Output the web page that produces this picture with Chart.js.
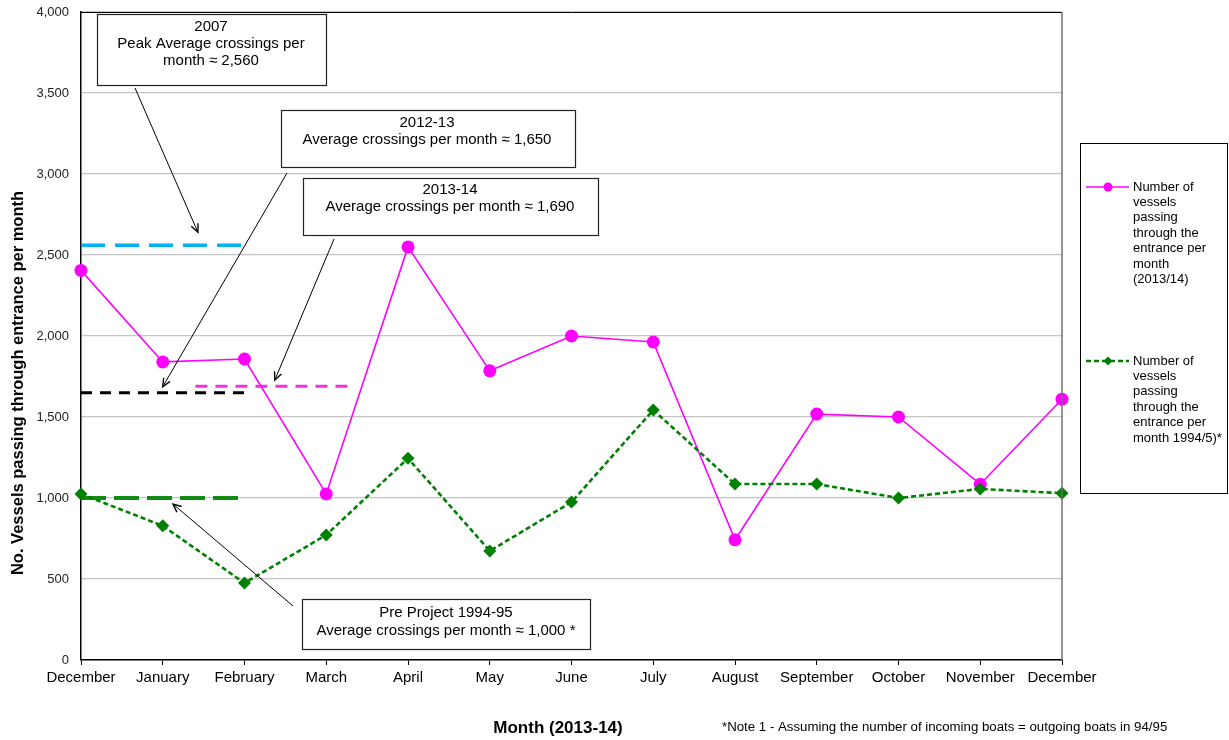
<!DOCTYPE html>
<html>
<head>
<meta charset="utf-8">
<script src="https://cdn.jsdelivr.net/npm/chart.js@4/dist/chart.umd.min.js"></script>
<style>
  html, body { margin: 0; padding: 0; background: #fff; }
  #wrap { position: relative; width: 1229px; height: 740px; }
</style>
</head>
<body>
<div id="wrap"><canvas id="c" width="1229" height="740"></canvas></div>
<script>
// Months along the x axis (Dec 2013 through Dec 2014)
const months = ['December', 'January', 'February', 'March', 'April', 'May', 'June',
  'July', 'August', 'September', 'October', 'November', 'December'];

// Vessels passing through the entrance per month, 2013/14
const vessels2013 = [2405, 1840, 1858, 1025, 2550, 1785, 2000, 1963, 742, 1518, 1500, 1085, 1610];

// Vessels passing through the entrance per month, 1994/5 (pre project)
const vessels1994 = [1025, 828, 475, 772, 1245, 673, 975, 1543, 1086, 1086, 1000, 1056, 1030];

// Average crossings per month for reference periods
const avgPeriods = ['2007', '2012-13', '2013-14', 'Pre Project 1994-95'];
const avgValues = [2560, 1650, 1690, 1000];
const avgFrom = [0, 0, 1.4, 0];
const avgTo = [2, 2, 3.35, 2];
const avgColors = ['#00B0F0', '#000000', '#EE33DD', '#138A13'];
const avgWidths = [3.5, 3, 3, 4];
const avgDashes = [[24, 10], [11, 8], [12, 8], [25, 8]];

// Text of the callout boxes
const calloutText = [
  ['2007', 'Peak Average crossings per', 'month \u2248 2,560'],
  ['2012-13', 'Average crossings per month \u2248 1,650'],
  ['2013-14', 'Average crossings per month \u2248 1,690'],
  ['Pre Project 1994-95', 'Average crossings per month \u2248 1,000 *']
];

const legendText = [
  ['Number of', 'vessels', 'passing', 'through the', 'entrance per', 'month', '(2013/14)'],
  ['Number of', 'vessels', 'passing', 'through the', 'entrance per', 'month 1994/5)*']
];

const yTitle = 'No. Vessels passing through entrance per month';
const xTitle = 'Month (2013-14)';
const footnote = '*Note 1 - Assuming the number of incoming boats = outgoing boats in 94/95';

const FONT = '"Liberation Sans", Arial, Helvetica, sans-serif';
const MAGENTA = '#FF00FF';
const GREEN = '#008000';

const toPoints = arr => arr.map((v, i) => ({ x: i, y: v }));

const datasets = [
  {
    label: 'Number of vessels passing through the entrance per month (2013/14)',
    data: toPoints(vessels2013),
    borderColor: MAGENTA,
    backgroundColor: MAGENTA,
    borderWidth: 1.6,
    pointStyle: 'circle',
    pointRadius: 6.5,
    pointBorderWidth: 0,
    tension: 0,
    clip: false,
    order: 1
  },
  {
    label: 'Number of vessels passing through the entrance per month 1994/5)*',
    data: toPoints(vessels1994),
    borderColor: GREEN,
    backgroundColor: GREEN,
    borderWidth: 2.6,
    borderDash: [5, 3],
    pointStyle: 'rectRot',
    pointRadius: 6.5,
    pointBorderWidth: 0,
    tension: 0,
    clip: false,
    order: 0
  }
];

avgValues.forEach((v, i) => {
  datasets.push({
    label: avgPeriods[i],
    data: [{ x: avgFrom[i], y: v }, { x: avgTo[i], y: v }],
    borderColor: avgColors[i],
    borderWidth: avgWidths[i],
    borderDash: avgDashes[i],
    pointRadius: 0,
    borderCapStyle: 'butt',
    order: 5
  });
});

// Callout boxes (canvas pixels) and arrows pointing at the average lines.
// Arrow tips are placed on the matching average line via the scales.
const callouts = [
  { box: [97, 14, 229, 71], lineY: [27, 44, 61], cx: 211, tail: [135, 88], tipX: 1.43, tipDy: -13 },
  { box: [281, 110, 294, 57], lineY: [123, 140], cx: 427, tail: [287, 173], tipX: 1.0, tipDy: -6 },
  { box: [303, 178, 295, 57], lineY: [190, 207], cx: 450, tail: [334, 239], tipX: 2.37, tipDy: -6 },
  { box: [302, 599, 288, 50], lineY: [613, 631], cx: 446, tail: [293, 606], tipX: 1.125, tipDy: 6 }
];

function arrow(ctx, x1, y1, x2, y2) {
  const ang = Math.atan2(y2 - y1, x2 - x1);
  const len = 9, spread = 0.42;
  ctx.beginPath();
  ctx.moveTo(x1, y1);
  ctx.lineTo(x2, y2);
  ctx.lineWidth = 1;
  ctx.stroke();
  ctx.beginPath();
  ctx.moveTo(x2 - len * Math.cos(ang - spread), y2 - len * Math.sin(ang - spread));
  ctx.lineTo(x2, y2);
  ctx.lineTo(x2 - len * Math.cos(ang + spread), y2 - len * Math.sin(ang + spread));
  ctx.lineWidth = 1.4;
  ctx.stroke();
}

const decorations = {
  id: 'decorations',
  afterDraw(chart) {
    const { ctx, chartArea: a, scales } = chart;
    ctx.save();

    // plot frame
    ctx.strokeStyle = '#000';
    ctx.lineWidth = 1;
    ctx.beginPath();
    ctx.moveTo(a.left, a.top + 0.5);
    ctx.lineTo(a.right, a.top + 0.5);
    ctx.stroke();
    ctx.strokeStyle = '#707070';
    ctx.lineWidth = 1.5;
    ctx.beginPath();
    ctx.moveTo(a.right, a.top);
    ctx.lineTo(a.right, a.bottom);
    ctx.stroke();

    // callouts
    callouts.forEach((c, i) => {
      const [bx, by, bw, bh] = c.box;
      ctx.fillStyle = '#fff';
      ctx.fillRect(bx, by, bw, bh);
      ctx.strokeStyle = '#222';
      ctx.lineWidth = 1.2;
      ctx.strokeRect(bx + 0.5, by + 0.5, bw, bh);
      ctx.fillStyle = '#000';
      ctx.font = '15px ' + FONT;
      ctx.textAlign = 'center';
      ctx.textBaseline = 'middle';
      calloutText[i].forEach((t, k) => ctx.fillText(t, c.cx, c.lineY[k]));
      const tx = scales.x.getPixelForValue(c.tipX);
      const ty = scales.y.getPixelForValue(avgValues[i]) + c.tipDy;
      ctx.strokeStyle = '#000';
      arrow(ctx, c.tail[0], c.tail[1], tx, ty);
    });

    // legend
    ctx.strokeStyle = '#000';
    ctx.lineWidth = 1;
    ctx.strokeRect(1080.5, 143.5, 147, 350);
    const entryY = [187, 361];
    ctx.font = '13px ' + FONT;
    ctx.textAlign = 'left';
    ctx.textBaseline = 'middle';
    datasets.slice(0, 2).forEach((d, i) => {
      const y = entryY[i];
      ctx.strokeStyle = d.borderColor;
      ctx.lineWidth = i === 0 ? 1.6 : 2.4;
      ctx.setLineDash(i === 0 ? [] : [5, 3]);
      ctx.beginPath();
      ctx.moveTo(1086, y);
      ctx.lineTo(1129, y);
      ctx.stroke();
      ctx.setLineDash([]);
      ctx.fillStyle = d.backgroundColor;
      ctx.beginPath();
      if (i === 0) {
        ctx.arc(1108, y, 4.5, 0, Math.PI * 2);
      } else {
        ctx.moveTo(1108, y - 4.5); ctx.lineTo(1112.5, y); ctx.lineTo(1108, y + 4.5); ctx.lineTo(1103.5, y);
        ctx.closePath();
      }
      ctx.fill();
      ctx.fillStyle = '#000';
      legendText[i].forEach((t, k) => ctx.fillText(t, 1133, y + k * 15.4));
    });

    // axis titles and note
    ctx.fillStyle = '#000';
    ctx.font = 'bold 17px ' + FONT;
    ctx.textAlign = 'center';
    ctx.fillText(xTitle, 558, 728);
    ctx.font = '13.25px ' + FONT;
    ctx.textAlign = 'left';
    ctx.fillText(footnote, 722, 727);

    ctx.save();
    ctx.translate(18, 383);
    ctx.rotate(-Math.PI / 2);
    ctx.font = 'bold 16.5px ' + FONT;
    ctx.textAlign = 'center';
    ctx.fillText(yTitle, 0, 0);
    ctx.restore();

    ctx.restore();
  }
};

new Chart(document.getElementById('c'), {
  type: 'line',
  data: { datasets },
  options: {
    responsive: false,
    animation: false,
    layout: { padding: { left: 0, top: 12, right: 167, bottom: 0 } },
    plugins: { legend: { display: false }, tooltip: { enabled: false } },
    scales: {
      x: {
        type: 'linear',
        min: 0,
        max: 12,
        afterFit(s) { s.height = 80; },
        grid: { drawOnChartArea: false, drawTicks: true, tickLength: 5, color: '#000', lineWidth: 1 },
        border: { color: '#000', width: 1.5 },
        ticks: {
          stepSize: 1,
          autoSkip: false,
          maxRotation: 0,
          padding: 4,
          color: '#000',
          font: { family: FONT, size: 15 },
          callback: v => months[v] ?? ''
        }
      },
      y: {
        min: 0,
        max: 4000,
        afterFit(s) { s.width = 81; s.paddingTop = 0; s.paddingBottom = 0; },
        grid: { color: '#C4C4C4', lineWidth: 1.2, drawTicks: false },
        border: { color: '#000', width: 1.5 },
        ticks: {
          stepSize: 500,
          padding: 12,
          color: '#222',
          font: { family: FONT, size: 13 },
          callback: v => v.toLocaleString('en-US')
        }
      }
    }
  },
  plugins: [decorations]
});
</script>
</body>
</html>
